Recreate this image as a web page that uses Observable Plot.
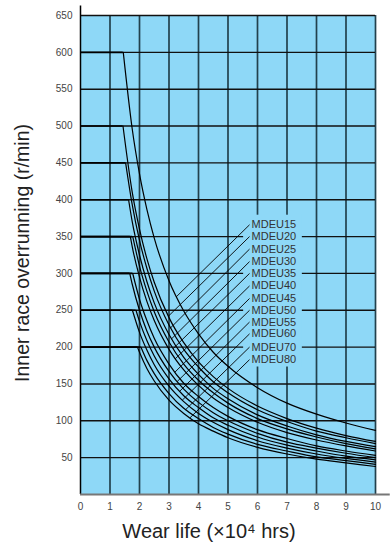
<!DOCTYPE html>
<html>
<head>
<meta charset="utf-8">
<script src="https://cdn.jsdelivr.net/npm/d3@7"></script>
<script src="https://cdn.jsdelivr.net/npm/@observablehq/plot@0.6"></script>
<style>
  html, body { margin: 0; padding: 0; background: #fff; }
  #chart { width: 390px; height: 545px; }
</style>
</head>
<body>
<div id="chart"></div>
<script>
// ---- data ----
const models = ["MDEU15","MDEU20","MDEU25","MDEU30","MDEU35","MDEU40","MDEU45","MDEU50","MDEU55","MDEU60","MDEU70","MDEU80"];
const maxSpeed = [600, 500, 450, 400, 350, 350, 300, 300, 250, 250, 200, 200];
const capLife  = [1.45, 1.44, 1.53, 1.63, 1.77, 1.69, 1.77, 1.67, 1.88, 1.76, 2.05, 1.93];
const lifeX = [1.75, 2, 2.25, 2.5, 3, 3.5, 4, 4.5, 5, 6, 7, 8, 9, 10];
const sMDEU15 = [497, 435, 387, 348, 290, 249, 218, 193, 174, 145, 124, 109, 97, 87];
const sMDEU20 = [411, 360, 320, 288, 240, 206, 180, 160, 144, 120, 103, 90, 80, 72];
const sMDEU25 = [394, 345, 307, 276, 230, 197, 173, 153, 138, 115, 99, 86, 77, 69];
const sMDEU30 = [371, 325, 289, 260, 217, 186, 163, 144, 130, 108, 93, 81, 72, 65];
const sMDEU35 = [null, 310, 276, 248, 207, 177, 155, 138, 124, 103, 89, 78, 69, 62];
const sMDEU40 = [337, 295, 262, 236, 197, 169, 148, 131, 118, 98, 84, 74, 66, 59];
const sMDEU45 = [null, 265, 236, 212, 177, 151, 133, 118, 106, 88, 76, 66, 59, 53];
const sMDEU50 = [286, 250, 222, 200, 167, 143, 125, 111, 100, 83, 71, 63, 56, 50];
const sMDEU55 = [null, 235, 209, 188, 157, 134, 118, 104, 94, 78, 67, 59, 52, 47];
const sMDEU60 = [null, 220, 196, 176, 147, 126, 110, 98, 88, 73, 63, 55, 49, 44];
const sMDEU70 = [null, null, 182, 164, 137, 117, 103, 91, 82, 68, 59, 51, 46, 41];
const sMDEU80 = [null, 193, 171, 154, 128, 110, 96, 86, 77, 64, 55, 48, 43, 38];
const speedRows = [sMDEU15, sMDEU20, sMDEU25, sMDEU30, sMDEU35, sMDEU40, sMDEU45, sMDEU50, sMDEU55, sMDEU60, sMDEU70, sMDEU80];
// leader line: point on curve -> label
const leaderLife  = [3.24, 2.98, 3.05, 3.08, 3.14, 3.21, 3.20, 3.27, 3.36, 3.45, 3.56, 3.71];
const leaderSpeed = [268, 242, 226, 211, 198, 184, 166, 153, 140, 128, 115, 104];
const labelSpeed  = [366, 350, 333, 316, 300, 283, 266, 250, 234, 218, 200, 183];
const labelLife = 5.73;
const labelBox = {x1: 5.53, x2: 7.52, y1: 173, y2: 379};
const xTicks = [0,1,2,3,4,5,6,7,8,9,10];
const yTicks = [50,100,150,200,250,300,350,400,450,500,550,600,650];
const xGrid = [1,2,3,4,5,6,7,8,9,10];
const yGrid = [50,100,150,200,250,300,350,400,450,500,550,600,650];

// ---- tables ----
const curveRows = models.flatMap((m, i) => [
  {m, x: capLife[i], y: maxSpeed[i]},
  ...lifeX.map((x, j) => ({m, x, y: speedRows[i][j]})).filter(d => d.y != null && d.x > capLife[i])
]);
const capRows = models.map((m, i) => ({m, cap: maxSpeed[i], x2: capLife[i]}));
const labelRows = models.map((m, i) => ({m, lx: leaderLife[i], ly: leaderSpeed[i], ty: labelSpeed[i]}));

const BG = "#8ed8f7";
const font = "'Liberation Sans', Arial, Helvetica, sans-serif";

const chart = Plot.plot({
  width: 390,
  height: 545,
  marginLeft: 80,
  marginRight: 15,
  marginTop: 15,
  marginBottom: 51,
  style: {fontFamily: font, background: "#fff", color: "#444", overflow: "visible"},
  x: {domain: [0, 10]},
  y: {domain: [0, 650]},
  marks: [
    Plot.frame({fill: BG, stroke: null}),
    Plot.ruleX(xGrid, {y1: 0, y2: 650, stroke: "#22414d", strokeWidth: 1.7}),
    Plot.ruleY(yGrid, {x1: 0, x2: 10, stroke: "#111", strokeWidth: 1.4}),
    Plot.rect([labelBox], {x1: "x1", x2: "x2", y1: "y1", y2: "y2", fill: BG}),
    Plot.ruleY(capRows, {y: "cap", x1: 0, x2: "x2", stroke: "#000", strokeWidth: 1.6}),
    Plot.line(curveRows, {x: "x", y: "y", z: "m", curve: "monotone-x", stroke: "#000", strokeWidth: 1.2}),
    Plot.link(labelRows, {x1: "lx", y1: "ly", x2: labelLife, y2: "ty", stroke: "#000", strokeWidth: 0.9}),
    Plot.text(labelRows, {x: labelLife, y: "ty", text: "m", textAnchor: "start", dx: 2, fontSize: 11, fill: "#333"}),
    Plot.ruleX([0], {y1: 0, y2: 663, stroke: "#000", strokeWidth: 1.5}),
    Plot.ruleY([0], {x1: 0, x2: 10.5, stroke: "#777", strokeWidth: 2}),
    Plot.axisY(yTicks, {tickSize: 0, tickPadding: 8, label: null, fontSize: 10}),
    Plot.axisX(xTicks, {tickSize: 0, tickPadding: 8, label: null, fontSize: 10}),
    Plot.text(["Inner race overrunning (r/min)"], {frameAnchor: "left", textAnchor: "middle", dx: -58, dy: -2, rotate: -90, fontSize: 19.5, fill: "#222"}),
    Plot.text(["Wear life (×10⁴ hrs)"], {frameAnchor: "bottom", textAnchor: "middle", dy: 43, dx: -19, fontSize: 20, fill: "#222"})
  ]
});
document.getElementById("chart").appendChild(chart);
</script>
</body>
</html>
